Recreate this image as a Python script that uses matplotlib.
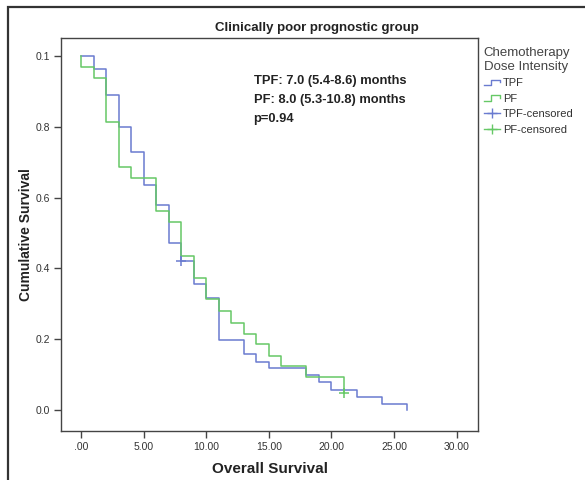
import matplotlib
matplotlib.use('Agg')
import matplotlib.pyplot as plt
from matplotlib.lines import Line2D
from matplotlib.legend_handler import HandlerBase
from matplotlib.patches import Rectangle

plt.rcParams['font.family'] = ['Liberation Sans', 'DejaVu Sans']

# Kaplan-Meier steps (months, survival)
tpf_time = [0, 1, 2, 3, 4, 5, 6, 7, 8, 9, 10, 11, 13, 14, 15, 18, 19, 20, 22, 24, 26]
tpf_surv = [1.0, 0.963, 0.889, 0.800, 0.728, 0.637, 0.580, 0.473, 0.420, 0.357, 0.317,
            0.198, 0.159, 0.136, 0.119, 0.099, 0.079, 0.058, 0.038, 0.018, 0.0]
pf_time = [0, 0, 1, 2, 3, 4, 6, 7, 8, 9, 10, 11, 12, 13, 14, 15, 16, 18, 21]
pf_surv = [1.0, 0.969, 0.938, 0.813, 0.688, 0.656, 0.563, 0.531, 0.436, 0.374, 0.314,
           0.280, 0.247, 0.216, 0.186, 0.154, 0.125, 0.094, 0.047]
tpf_cens = ([8], [0.420])
pf_cens = ([21], [0.047])

xticks = [0, 5, 10, 15, 20, 25, 30]
xticklabels = ['.00', '5.00', '10.00', '15.00', '20.00', '25.00', '30.00']
yticks = [0.0, 0.2, 0.4, 0.6, 0.8, 1.0]
yticklabels = ['0.0', '0.2', '0.4', '0.6', '0.8', '0.1']

blue = '#6a7bd0'
green = '#66c866'
txt = '#222222'


class StepHandler(HandlerBase):
    # little step glyph like the SPSS legend
    def create_artists(self, legend, orig_handle, xdescent, ydescent,
                       width, height, fontsize, trans):
        w, h = width, height
        xs = [-xdescent, -xdescent + 0.45 * w, -xdescent + 0.45 * w, -xdescent + w, -xdescent + w]
        ys = [-ydescent + 0.15 * h, -ydescent + 0.15 * h, -ydescent + 0.85 * h,
              -ydescent + 0.85 * h, -ydescent + 0.5 * h]
        ln = Line2D(xs, ys, color=orig_handle.get_color(), lw=1.0, transform=trans)
        return [ln]


fig = plt.figure(figsize=(5.85, 4.8), dpi=100)
ax = fig.add_axes([61 / 585, 1 - 431 / 480, (478 - 61) / 585, (431 - 38) / 480])

ax.step(tpf_time, tpf_surv, where='post', color=blue, lw=1.1)
ax.step(pf_time, pf_surv, where='post', color=green, lw=1.1)
ax.plot(*tpf_cens, '+', color=blue, ms=7, mew=1.1)
ax.plot(*pf_cens, '+', color=green, ms=7, mew=1.1)

ax.set_xlim(-1.6, 31.7)
ax.set_ylim(-0.059, 1.051)
ax.set_xticks(xticks)
ax.set_xticklabels(xticklabels)
ax.set_yticks(yticks)
ax.set_yticklabels(yticklabels)
ax.tick_params(direction='out', length=5, width=1, color='#444444', labelsize=7.5,
               labelcolor='#333333', pad=3)
for s in ax.spines.values():
    s.set_color('#444444')
    s.set_linewidth(1.0)

fig.text(317 / 585, 1 - 28 / 480, 'Clinically poor prognostic group', fontsize=9.5,
         fontweight='bold', color=txt, ha='center', va='center')
ax.set_xlabel('Overall Survival', fontsize=11, fontweight='bold', color=txt, labelpad=7)
ax.set_ylabel('Cumulative Survival', fontsize=10, fontweight='bold', color=txt, labelpad=2)

ax.text(0.462, 0.905, 'TPF: 7.0 (5.4-8.6) months\nPF: 8.0 (5.3-10.8) months\np=0.94',
        transform=ax.transAxes, fontsize=9.3, fontweight='bold', color=txt,
        va='top', ha='left', linespacing=1.78)

handles = [Line2D([], [], color=blue), Line2D([], [], color=green),
           Line2D([], [], color=blue, marker='+', ms=7, lw=1.0),
           Line2D([], [], color=green, marker='+', ms=7, lw=1.0)]
labels = ['TPF', 'PF', 'TPF-censored', 'PF-censored']
leg = fig.legend(handles, labels, loc='upper left',
                 bbox_to_anchor=(476 / 585, 1 - 39 / 480),
                 title='Chemotherapy\nDose Intensity', title_fontsize=9.5,
                 fontsize=8, frameon=False, alignment='left',
                 handlelength=1.5, handletextpad=0.2, labelspacing=0.5,
                 borderpad=0.2,
                 handler_map={handles[0]: StepHandler(), handles[1]: StepHandler()})
leg.get_title().set_color('#444444')
for t in leg.get_texts():
    t.set_color('#333333')

# outer frame of the original figure
fig.patches.append(Rectangle((8 / 585, -0.1), 1.2, 1.1 - 7 / 480,
                             transform=fig.transFigure, fill=False,
                             edgecolor='#333333', lw=1.6))

fig.savefig('out.png', dpi=100)
